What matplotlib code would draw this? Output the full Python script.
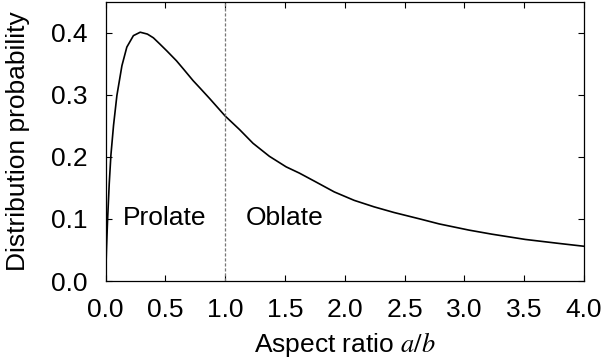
import matplotlib
matplotlib.use("Agg")
import matplotlib.pyplot as plt

aspect_ratio = [0.0, 0.008, 0.017, 0.031, 0.045, 0.067, 0.095, 0.137, 0.178, 0.233,
                0.29, 0.35, 0.4, 0.454, 0.512, 0.593, 0.65, 0.732, 0.79, 0.871,
                1.0, 1.121, 1.233, 1.37, 1.51, 1.62, 1.746, 1.9125, 2.079, 2.246,
                2.4125, 2.635, 2.79, 3.04, 3.23, 3.51, 3.79, 4.0]
probability = [0.0, 0.052, 0.098, 0.157, 0.203, 0.251, 0.299, 0.347, 0.377, 0.3955,
               0.401, 0.398, 0.392, 0.382, 0.371, 0.355, 0.342, 0.323, 0.311, 0.294,
               0.266, 0.244, 0.222, 0.201, 0.184, 0.174, 0.161, 0.1436, 0.130, 0.1195,
               0.1104, 0.0997, 0.092, 0.082, 0.0755, 0.067, 0.0606, 0.056]
x_ticks = [0.0, 0.5, 1.0, 1.5, 2.0, 2.5, 3.0, 3.5, 4.0]
y_ticks = [0.0, 0.1, 0.2, 0.3, 0.4]

plt.rcParams['font.family'] = ['Liberation Sans', 'DejaVu Sans']
plt.rcParams['mathtext.fontset'] = 'stix'

fig = plt.figure(figsize=(6.02, 3.64), dpi=100)
ax = fig.add_axes([0.1753, 0.228, 0.7947, 0.767])

ax.plot(aspect_ratio, probability, color='black', lw=1.2,
        solid_joinstyle='round')
ax.axvline(1.0, color='#777777', lw=0.9, ls=(0, (2.5, 1.5)))

ax.set_xlim(0, 4)
ax.set_ylim(0, 0.45)
ax.set_xticks(x_ticks)
ax.set_xticklabels([f"{v:.1f}" for v in x_ticks])
ax.set_yticks(y_ticks)
ax.set_yticklabels([f"{v:.1f}" for v in y_ticks])
ax.tick_params(direction='in', top=True, right=True, length=4, width=0.8,
               labelsize=19)
ax.tick_params(axis='x', pad=12)
ax.tick_params(axis='y', pad=13)
for s in ax.spines.values():
    s.set_linewidth(0.9)

ax.text(0.49, 0.101, "Prolate", fontsize=19, ha='center', va='center')
ax.text(1.5, 0.101, "Oblate", fontsize=19, ha='center', va='center')

ax.set_xlabel("Aspect ratio $a/b$", fontsize=19, labelpad=6)
ax.set_ylabel("Distribution probability", fontsize=19, labelpad=15)

fig.savefig("out.png", dpi=100)
